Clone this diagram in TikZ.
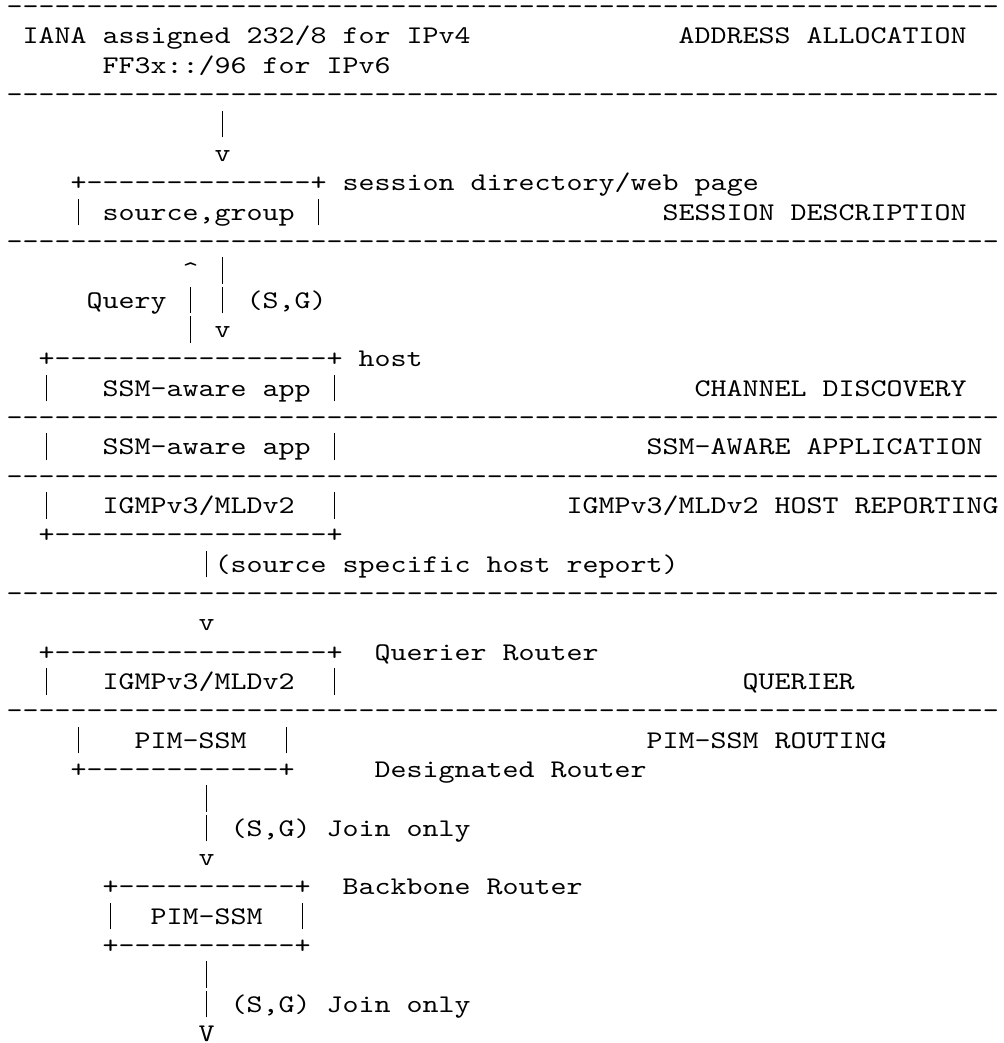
\documentclass[tikz,border=0pt]{standalone}
\usepackage{fontspec}
\newfontfamily\cour[Extension=.otf,FakeStretch=1.2]{lmmono10-regular}
\newcommand\mytt{\cour\fontsize{12.7pt}{14pt}\selectfont}
\newcommand\myspacing{\frenchspacing\spaceskip=8pt\relax\xspaceskip=8pt\relax}
% vertical bar drawn as a tall thin rule, one character cell wide
\newcommand\vb{\makebox[8pt]{\rule[-2.67pt]{0.75pt}{13.33pt}}}
\begin{document}
\begin{tikzpicture}[
  txt/.style={anchor=base west, inner sep=0pt, outer sep=0pt,
    font=\mytt, text=black}]
\fill[white] (0,0) rectangle (502pt,-521.5pt);
\useasboundingbox (0,0) rectangle (502pt,-521.5pt);
\newcommand\R[4]{\node[txt] (#1) at ({3.35pt+8pt*(#3)},{-22pt-14.667pt*((#2)-2)}) {\myspacing #4};}
\newcommand\dashline{--------------------------------------------------------------}
% row 1-4
\R{d1}{1}{0}{\dashline}
\R{iana}{2}{1}{IANA assigned 232/8 for IPv4}
\R{alloc}{2}{42}{ADDRESS ALLOCATION}
\R{ff3x}{3}{6}{FF3x::/96 for IPv6}
\R{d4}{4}{0}{\dashline}
% session description
\R{a5}{5}{13}{\vb}
\R{a6}{6}{13}{v}
\R{sdtop}{7}{4}{+--------------+ session directory/web page}
\R{sdmid}{8}{4}{\vb{} source,group \vb}
\R{sdlab}{8}{41}{SESSION DESCRIPTION}
\R{d9}{9}{0}{\dashline}
% channel discovery
\R{a10}{10}{11}{\textasciicircum{} \vb}
\R{a11}{11}{5}{Query \vb{} \vb{} (S,G)}
\R{a12}{12}{11}{\vb{} v}
\R{hosttop}{13}{2}{+-----------------+ host}
\R{h14l}{14}{2}{\vb}
\R{h14t}{14}{6}{SSM-aware app \vb}
\R{cdlab}{14}{43}{CHANNEL DISCOVERY}
\R{d15}{15}{0}{\dashline}
\R{h16l}{16}{2}{\vb}
\R{h16t}{16}{6}{SSM-aware app \vb}
\R{salab}{16}{40}{SSM-AWARE APPLICATION}
\R{d17}{17}{0}{\dashline}
\R{h18l}{18}{2}{\vb}
\R{h18t}{18}{6}{IGMPv3/MLDv2}
\R{h18r}{18}{20}{\vb}
\R{hrlab}{18}{35}{IGMPv3/MLDv2 HOST REPORTING}
\R{hostbot}{19}{2}{+-----------------+}
\R{a20}{20}{12}{\vb(source specific host report)}
\R{d21}{21}{0}{\dashline}
% querier
\R{a22}{22}{12}{v}
\R{qtop}{23}{2}{+-----------------+}
\R{qname}{23}{23}{Querier Router}
\R{q24l}{24}{2}{\vb}
\R{q24t}{24}{6}{IGMPv3/MLDv2}
\R{q24r}{24}{20}{\vb}
\R{qlab}{24}{46}{QUERIER}
\R{d25}{25}{0}{\dashline}
% PIM-SSM
\R{p26l}{26}{4}{\vb}
\R{p26t}{26}{8}{PIM-SSM}
\R{p26r}{26}{17}{\vb}
\R{plab}{26}{40}{PIM-SSM ROUTING}
\R{pbot}{27}{4}{+------------+}
\R{dr}{27}{23}{Designated Router}
\R{a28}{28}{12}{\vb}
\R{a29}{29}{12}{\vb{} (S,G) Join only}
\R{a30}{30}{12}{v}
\R{btop}{31}{6}{+-----------+}
\R{bname}{31}{21}{Backbone Router}
\R{b32l}{32}{6}{\vb}
\R{b32t}{32}{9}{PIM-SSM}
\R{b32r}{32}{18}{\vb}
\R{bbot}{33}{6}{+-----------+}
\R{a34}{34}{12}{\vb}
\R{a35}{35}{12}{\vb{} (S,G) Join only}
\R{a36}{36}{12}{V}
\end{tikzpicture}
\end{document}
